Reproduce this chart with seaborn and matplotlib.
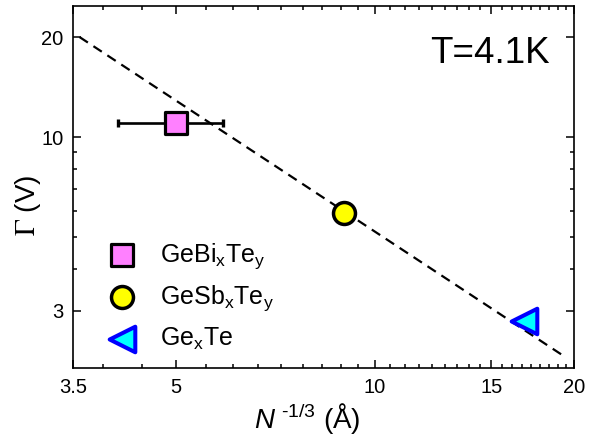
import matplotlib
matplotlib.use("Agg")
import matplotlib.pyplot as plt
import seaborn as sns
import numpy as np
import pandas as pd

# ---- data ----
bi_x = [5.0]
bi_y = [11.0]
bi_xerr_lo = [0.9]
bi_xerr_hi = [0.9]
sb_x = [9.0]
sb_y = [5.9]
ge_x = [16.8]
ge_y = [2.8]
fit_x = [3.58, 19.4]
fit_y = [20.0, 2.18]

x_ticks = [3.5, 5, 10, 15, 20]
x_ticklabels = ["3.5", "5", "10", "15", "20"]
y_ticks = [3, 10, 20]
y_ticklabels = ["3", "10", "20"]
x_minor = [3.889, 4.444] + [5 + k * 5 / 9 for k in range(1, 27) if k % 9 != 0]
y_minor = [4, 5, 6, 7, 8, 9]

labels = [r"GeBi$_\mathregular{x}$Te$_\mathregular{y}$",
          r"GeSb$_\mathregular{x}$Te$_\mathregular{y}$",
          r"Ge$_\mathregular{x}$Te"]

sns.set_style("ticks")
plt.rcParams["font.family"] = ["Liberation Sans", "DejaVu Sans"]
plt.rcParams["mathtext.fontset"] = "custom"
plt.rcParams["mathtext.rm"] = "Liberation Sans"
plt.rcParams["mathtext.it"] = "Liberation Sans:italic"
plt.rcParams["axes.linewidth"] = 1.2
for k in ["text.color", "axes.labelcolor", "xtick.color", "ytick.color", "axes.edgecolor"]:
    plt.rcParams[k] = "black"

fig = plt.figure(figsize=(6.04, 4.43), dpi=100)
ax = fig.add_axes([0.1209, 0.1693, 0.8294, 0.8172])
ax.set_xscale("log")
ax.set_yscale("log")

fit_df = pd.DataFrame({"x": fit_x, "y": fit_y})
sns.lineplot(data=fit_df, x="x", y="y", ax=ax, color="black", lw=1.6,
             dashes=False, zorder=1)
ax.lines[-1].set_dashes([4.5, 3])

ax.errorbar(bi_x, bi_y, xerr=[bi_xerr_lo, bi_xerr_hi], fmt="none", ecolor="black",
            elinewidth=1.9, capsize=2.6, capthick=2.4, zorder=2)

sns.scatterplot(x=bi_x, y=bi_y, ax=ax, marker="s", s=250, color="#FF80FF",
                edgecolor="black", linewidth=2.3, label=labels[0], zorder=3)
sns.scatterplot(x=sb_x, y=sb_y, ax=ax, marker="o", s=250, color="#FFFF00",
                edgecolor="black", linewidth=2.5, label=labels[1], zorder=3)
sns.scatterplot(x=ge_x, y=ge_y, ax=ax, marker="<", s=340, color="#00FFFF",
                edgecolor="#0000FF", linewidth=2.9, label=labels[2], zorder=3)

ax.set_xlim(3.5, 20)
ax.set_ylim(2.02, 24.8)

ax.set_xticks(x_ticks)
ax.set_xticklabels(x_ticklabels)
ax.set_xticks(x_minor, minor=True)
ax.set_xticklabels([], minor=True)
ax.set_yticks(y_ticks)
ax.set_yticklabels(y_ticklabels)
ax.set_yticks(y_minor, minor=True)
ax.set_yticklabels([], minor=True)

ax.tick_params(which="both", direction="in", top=True, right=True, width=1.1,
               color="black")
ax.tick_params(which="major", length=6, labelsize=14.5, pad=7)
ax.tick_params(which="minor", length=3.2)
for s in ax.spines.values():
    s.set_visible(True)
    s.set_color("black")

ax.set_xlabel(r"$N^{\text{ -1/3}}$ (Å)", fontsize=20)
ax.xaxis.set_label_coords(0.467, -0.14)
ax.xaxis.label.set_verticalalignment("center")
ax.set_ylabel(r"$\Gamma$ (V)", fontsize=20, math_fontfamily="stix")
ax.yaxis.set_label_coords(-0.09, 0.45)
ax.yaxis.label.set_verticalalignment("center")

ax.text(0.952, 0.8425, "T=4.1K", transform=ax.transAxes, ha="right",
        va="baseline", fontsize=26.5)

leg = ax.legend(loc="upper left", bbox_to_anchor=(0.073, 0.35), frameon=False,
                fontsize=18, handlelength=1.0, handletextpad=1.0,
                labelspacing=0.5, borderpad=0, borderaxespad=0, scatterpoints=1)

fig.savefig("out.png", dpi=100)
